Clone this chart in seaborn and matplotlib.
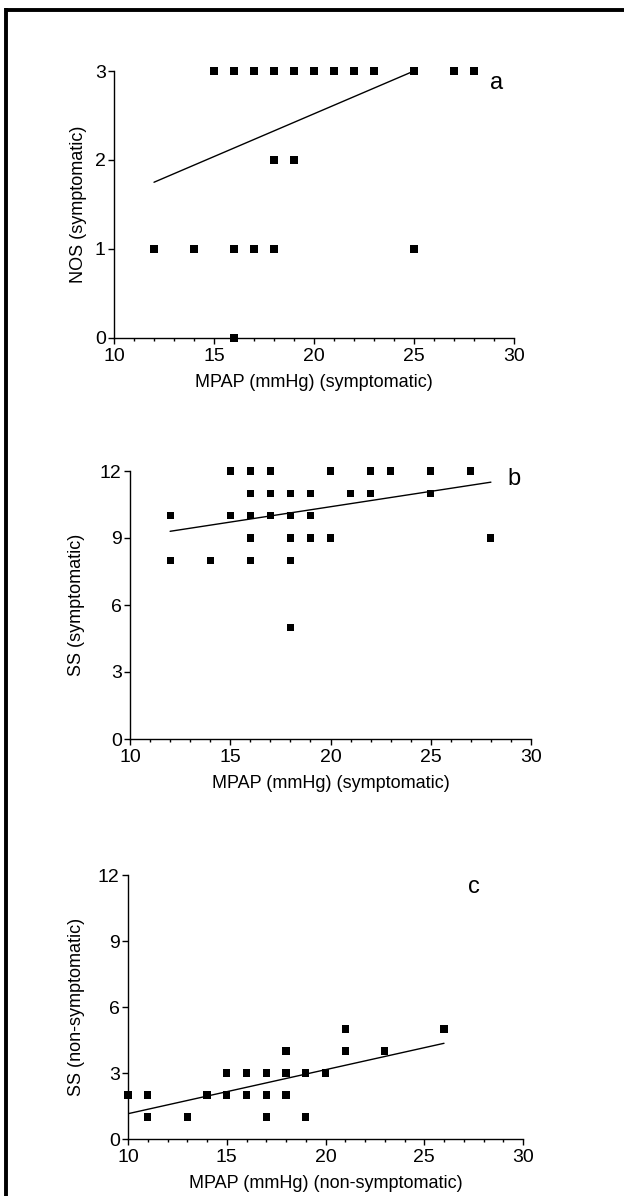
import numpy as np
import pandas as pd
import matplotlib
matplotlib.use("Agg")
import matplotlib.pyplot as plt
import seaborn as sns
from matplotlib.lines import Line2D
from matplotlib.ticker import MultipleLocator

# --- datos ---
# panel a: NOS vs MPAP (symptomatic)
a_x = [15, 16, 17, 18, 19, 20, 21, 22, 23, 25, 27, 28, 18, 19, 12, 14, 16, 17, 18, 25, 16]
a_y = [3, 3, 3, 3, 3, 3, 3, 3, 3, 3, 3, 3, 2, 2, 1, 1, 1, 1, 1, 1, 0]
a_fit_x = [12, 25]
a_fit_y = [1.75, 3.0]

# panel b: SS vs MPAP (symptomatic)
b_x = [15, 16, 17, 20, 22, 23, 25, 27,
       16, 17, 18, 19, 21, 22, 25,
       12, 15, 16, 17, 18, 19,
       16, 18, 19, 20, 28,
       12, 14, 16, 18,
       18]
b_y = [12] * 8 + [11] * 7 + [10] * 6 + [9] * 5 + [8] * 4 + [5]
b_fit_x = [12, 28]
b_fit_y = [9.3, 11.5]

# panel c: SS vs MPAP (non-symptomatic)
c_x = [21, 26,
       18, 21, 23,
       15, 16, 17, 18, 19, 20,
       10, 11, 14, 15, 16, 17, 18,
       11, 13, 17, 19]
c_y = [5] * 2 + [4] * 3 + [3] * 6 + [2] * 7 + [1] * 4
c_fit_x = [10, 26]
c_fit_y = [1.15, 4.35]

W, H = 624, 1196
sns.set_theme(style="ticks")
plt.rcParams['font.family'] = ['Liberation Sans', 'DejaVu Sans']

fig = plt.figure(figsize=(W / 100, H / 100), dpi=100)
fig.patch.set_facecolor("white")

panels = [
    dict(rect=(114, 71, 514, 338), x=a_x, y=a_y, fx=a_fit_x, fy=a_fit_y,
         ylim=3, ystep=1, ylabel="NOS (symptomatic)", ypad=5.5,
         xlabel="MPAP (mmHg) (symptomatic)", letter="a", lpos=(29.15, 2.87)),
    dict(rect=(130, 471, 531, 739), x=b_x, y=b_y, fx=b_fit_x, fy=b_fit_y,
         ylim=12, ystep=3, ylabel="SS (symptomatic)", ypad=11,
         xlabel="MPAP (mmHg) (symptomatic)", letter="b", lpos=(29.15, 11.64)),
    dict(rect=(128, 875, 523, 1139), x=c_x, y=c_y, fx=c_fit_x, fy=c_fit_y,
         ylim=12, ystep=3, ylabel="SS (non-symptomatic)", ypad=9,
         xlabel="MPAP (mmHg) (non-symptomatic)", letter="c", lpos=(27.5, 11.45)),
]

for p in panels:
    l, t, r, b = p["rect"]
    ax = fig.add_axes([l / W, 1 - b / H, (r - l) / W, (b - t) / H])
    df = pd.DataFrame({"x": p["x"], "y": p["y"]})
    sns.scatterplot(data=df, x="x", y="y", marker="s", s=26, color="black",
                    edgecolor="none", linewidth=0, ax=ax, clip_on=False, zorder=3)
    fit = pd.DataFrame({"x": p["fx"], "y": p["fy"]})
    sns.lineplot(data=fit, x="x", y="y", color="black", lw=1.0, ax=ax)

    ax.set_xlim(10, 30)
    ax.set_ylim(0, p["ylim"])
    ax.xaxis.set_major_locator(MultipleLocator(5))
    ax.xaxis.set_minor_locator(MultipleLocator(1))
    ax.yaxis.set_major_locator(MultipleLocator(p["ystep"]))
    sns.despine(ax=ax)
    for sp in ("left", "bottom"):
        ax.spines[sp].set_linewidth(1.0)
        ax.spines[sp].set_color("black")
    ax.tick_params(axis="both", which="major", direction="out", length=4.5,
                   width=1.0, color="black", labelsize=14, pad=1.5, labelcolor="black")
    ax.tick_params(axis="x", which="major", pad=3)
    ax.tick_params(axis="x", which="minor", direction="out", length=2.5,
                   width=1.0, color="black")
    ax.set_xlabel(p["xlabel"], fontsize=13, labelpad=6, color="black")
    ax.set_ylabel(p["ylabel"], fontsize=13, labelpad=p["ypad"], color="black")
    ax.text(p["lpos"][0], p["lpos"][1], p["letter"], fontsize=17,
            ha="center", va="center", color="black")
    ax.grid(False)

# marco de la figura (cortado a la derecha y abajo)
fig.add_artist(Line2D([5 / W, 1.0], [1 - 9.5 / H, 1 - 9.5 / H], color="black",
                      lw=2.8, transform=fig.transFigure, solid_capstyle="butt"))
fig.add_artist(Line2D([6 / W, 6 / W], [1 - 8 / H, 0.0], color="black",
                      lw=2.8, transform=fig.transFigure, solid_capstyle="butt"))

fig.savefig("out.png", dpi=100)
